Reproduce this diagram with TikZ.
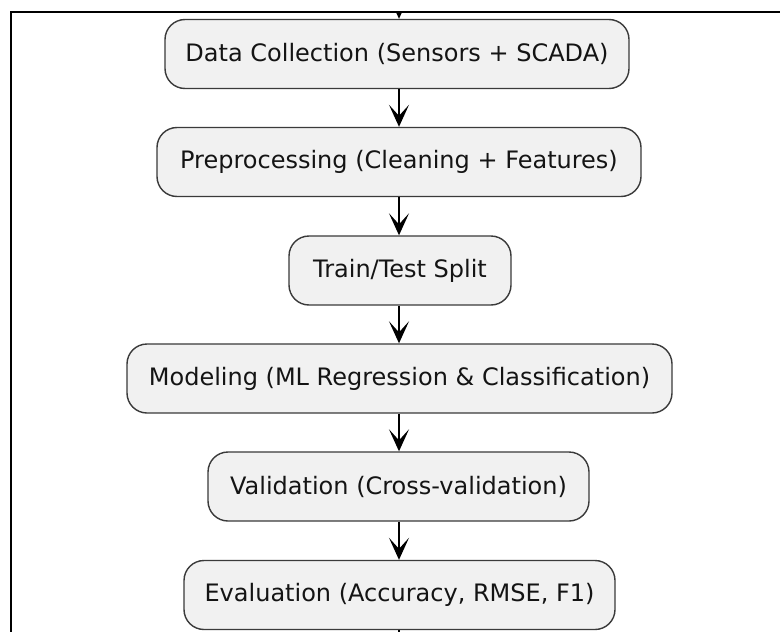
\documentclass[tikz,border=0pt]{standalone}
\usepackage{fontspec}
\setmainfont{DejaVu Sans}
\usetikzlibrary{arrows.meta}
\definecolor{boxfill}{HTML}{F1F1F1}
\definecolor{boxline}{HTML}{3A3A3A}
\definecolor{inkcol}{HTML}{141414}
\tikzset{
  stage/.style={draw=boxline, fill=boxfill, line width=1.4pt, rounded corners=20pt,
    minimum height=69pt, inner sep=0pt, text=inkcol,
    font=\fontsize{24pt}{29pt}\selectfont},
  flow/.style={draw=black, line width=1.5pt,
    -{Stealth[length=22pt, width=20pt, inset=11pt]}},
  plainflow/.style={draw=black, line width=1.5pt},
  frame/.style={draw=black, line width=2pt}
}
\begin{document}
\begin{tikzpicture}[x=1pt, y=-1pt]
  \useasboundingbox (0,0) rectangle (780,632);
  \fill[white] (0,0) rectangle (780,632);

  % process stages
  \node[stage, minimum width=464pt] (collect) at (397,54) {Data Collection (Sensors + SCADA)};
  \node[stage, minimum width=484pt] (prep)    at (399,162) {Preprocessing (Cleaning + Features)};
  \node[stage, minimum width=222pt] (split)   at (400,270.5) {Train/Test Split};
  \node[stage, minimum width=545pt] (model)   at (399.5,378.5) {Modeling (ML Regression \& Classification)};
  \node[stage, minimum width=381pt] (valid)   at (398.5,486.5) {Validation (Cross-validation)};
  \node[stage, minimum width=431pt] (eval)    at (399.5,595) {Evaluation (Accuracy, RMSE, F1)};

  % vertical axis the connectors run along
  \coordinate (axis) at (399,0);

  % incoming and outgoing ends, cut by the page
  \coordinate (entry) at (399,-6);
  \coordinate (exit) at (399,640);
  \begin{scope}
    \clip (0,12) rectangle (780,632);
    \draw[flow] (entry) -- (collect.north -| axis);
  \end{scope}
  \draw[plainflow] (eval.south -| axis) -- (exit);

  % flow between stages
  \draw[flow] (collect.south -| axis) -- (prep.north -| axis);
  \draw[flow] (prep.south -| axis) -- (split.north -| axis);
  \draw[flow] (split.south -| axis) -- (model.north -| axis);
  \draw[flow] (model.south -| axis) -- (valid.north -| axis);
  \draw[flow] (valid.south -| axis) -- (eval.north -| axis);

  % frame edges
  \draw[frame] (780,11.5) -- (11,11.5) -- (11,632);
\end{tikzpicture}
\end{document}
